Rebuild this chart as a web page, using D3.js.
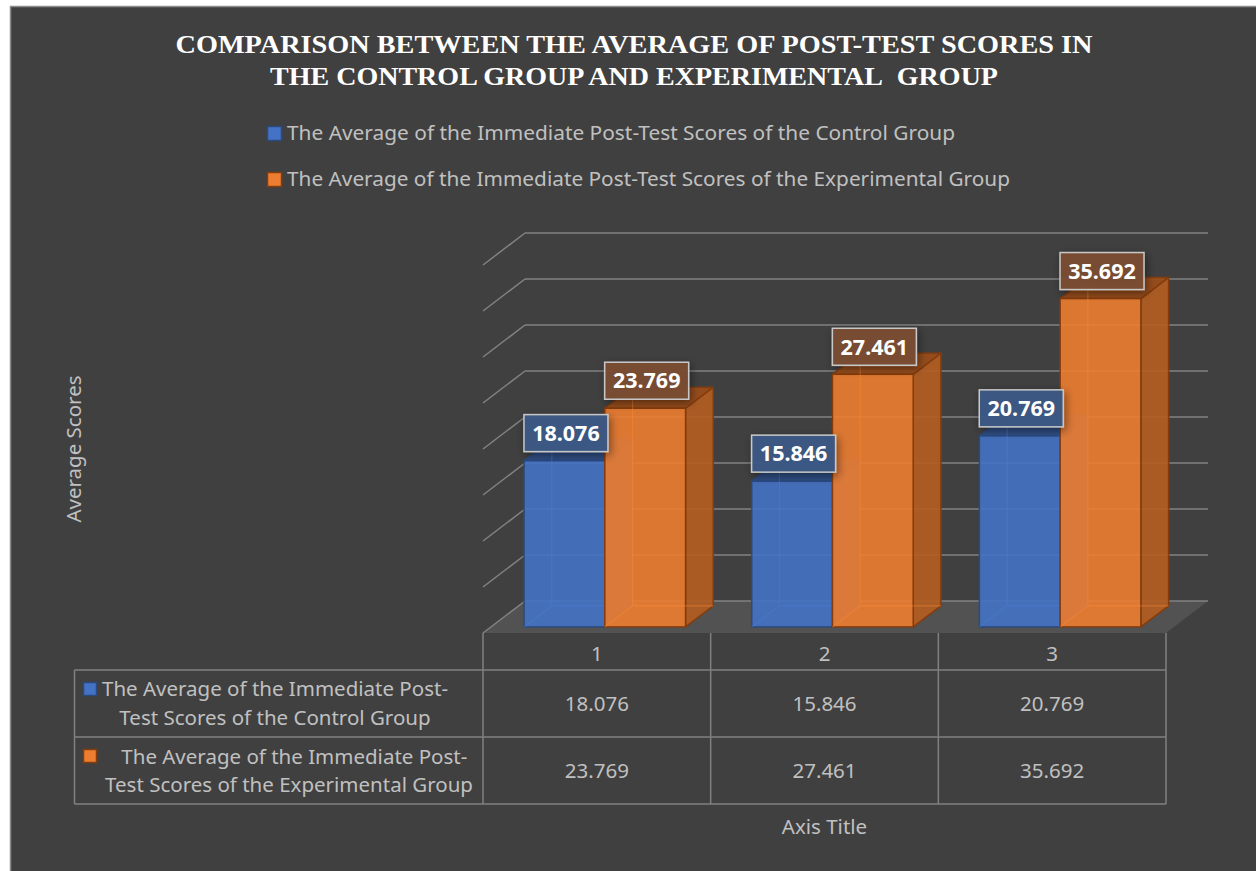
<!DOCTYPE html>
<html>
<head>
<meta charset="utf-8">
<script src="https://cdn.jsdelivr.net/npm/d3@7"></script>
<style>
  html, body { margin: 0; padding: 0; background: #ffffff; }
  svg { display: block; }
</style>
</head>
<body>
<div id="chart"></div>
<script>
// ############################################################################
// 3D clustered column chart with data table (Excel style)
// ############################################################################

// ----------------------------------------------------------------------------
// Data
// ----------------------------------------------------------------------------

const categories = ['1', '2', '3']
const seriesNames = [
  'The Average of the Immediate Post-Test Scores of the Control Group',
  'The Average of the Immediate Post-Test Scores of the Experimental Group'
]
const controlValues      = [18.076, 15.846, 20.769]
const experimentalValues = [23.769, 27.461, 35.692]
const valueTicks = [0, 5, 10, 15, 20, 25, 30, 35, 40]

const titleLines = [
  'COMPARISON BETWEEN THE AVERAGE OF POST-TEST SCORES IN',
  'THE CONTROL GROUP AND EXPERIMENTAL\u00a0 GROUP'
]
const tableRowLines = [
  ['The Average of the Immediate Post-', 'Test Scores of the Control Group'],
  ['\u00a0 The Average of the Immediate Post-', 'Test Scores of the Experimental Group']
]

// ----------------------------------------------------------------------------
// Layout / style
// ----------------------------------------------------------------------------

const W = 1256, H = 871
const bg = '#404040'
const grey = '#c0c0c0'
const gridColor = '#828282'
const font = '"Noto Sans", "Open Sans", sans-serif'

const colors = [
  { front: '#4472c4', side: '#2f5597', top: '#2f4f87', edge: '#2a4a80', label: '#3b5984' },
  { front: '#ed7d31', side: '#b35d22', top: '#9a4d1a', edge: '#843c0c', label: '#7a4e33' }
]

// floor front edge, depth vector
const floor = { left: 483, right: 1166, y: 633, dx: 42, dy: -32 }
const barDepth = [0.19, 0.85]

const svg = d3.select('#chart').append('svg')
  .attr('width', W)
  .attr('height', H)
  .style('font-family', font)

// chart area
svg.append('rect')
  .attr('x', 10.5).attr('y', 6.5)
  .attr('width', W).attr('height', H)
  .attr('fill', bg)
  .attr('stroke', '#8c8c8c')
  .attr('stroke-width', 1.5)

const defs = svg.append('defs')
const shadow = defs.append('filter').attr('id', 'shadow')
  .attr('x', '-30%').attr('y', '-30%').attr('width', '160%').attr('height', '160%')
shadow.append('feDropShadow')
  .attr('dx', 2).attr('dy', 3).attr('stdDeviation', 4)
  .attr('flood-color', '#000').attr('flood-opacity', 0.45)

// ----------------------------------------------------------------------------
// Scales
// ----------------------------------------------------------------------------

const x0 = d3.scaleBand()
  .domain(categories)
  .range([floor.left, floor.right])
  .paddingInner(0).paddingOuter(0)

const x1 = d3.scaleBand()
  .domain(d3.range(seriesNames.length))
  .range([0, x0.bandwidth()])
  .paddingInner(0).paddingOuter(0.41)

const yH = d3.scaleLinear()
  .domain([0, 40])
  .range([0, 368])

const series = [controlValues, experimentalValues]

// ----------------------------------------------------------------------------
// Title + legend
// ----------------------------------------------------------------------------

const titleY = [53, 85]
titleLines.forEach((t, i) => {
  svg.append('text')
    .attr('x', 634)
    .attr('y', titleY[i])
    .attr('text-anchor', 'middle')
    .attr('fill', '#ffffff')
    .style('font-family', '"Liberation Serif", "Times New Roman", serif')
    .style('font-weight', 'bold')
    .style('font-size', '26px')
    .attr('textLength', i == 0 ? 917 : 728)
    .attr('lengthAdjust', 'spacingAndGlyphs')
    .text(t)
})

const legendY = [133, 179]
const legendLen = [668, 723]
seriesNames.forEach((name, i) => {
  svg.append('rect')
    .attr('x', 267.5).attr('y', legendY[i] - 6.5)
    .attr('width', 14).attr('height', 14)
    .attr('fill', colors[i].front)
    .attr('stroke', colors[i].edge)
    .attr('stroke-width', 1.5)
  svg.append('text')
    .attr('x', 287)
    .attr('y', legendY[i])
    .attr('dy', '0.35em')
    .attr('fill', grey)
    .style('font-size', '19px')
    .attr('textLength', legendLen[i])
    .attr('lengthAdjust', 'spacingAndGlyphs')
    .text(name)
})

// ----------------------------------------------------------------------------
// Floor and gridlines
// ----------------------------------------------------------------------------

svg.append('polygon')
  .attr('points', [
    [floor.left, floor.y],
    [floor.left + floor.dx, floor.y + floor.dy],
    [floor.right + floor.dx, floor.y + floor.dy],
    [floor.right, floor.y]
  ].map(p => p.join(',')).join(' '))
  .attr('fill', '#525252')

const grid = svg.append('g')
  .attr('stroke', gridColor)
  .attr('stroke-width', 1.5)
  .attr('fill', 'none')

valueTicks.forEach(v => {
  const yb = floor.y + floor.dy - yH(v)
  grid.append('line')
    .attr('x1', floor.left + floor.dx).attr('x2', floor.right + floor.dx)
    .attr('y1', yb).attr('y2', yb)
  grid.append('line')
    .attr('x1', floor.left).attr('y1', floor.y - yH(v))
    .attr('x2', floor.left + floor.dx).attr('y2', yb)
})

// ----------------------------------------------------------------------------
// Bars
// ----------------------------------------------------------------------------

const pts = arr => arr.map(p => p.join(',')).join(' ')
const bars = svg.append('g')
const labelData = []

categories.forEach((cat, ci) => {
  series.forEach((vals, si) => {
    const c = colors[si]
    const v = vals[ci]
    const bw = x1.bandwidth()
    const xf = x0(cat) + x1(si) + floor.dx * barDepth[0]
    const yb = floor.y + floor.dy * barDepth[0]
    const yt = yb - yH(v)
    const dx = floor.dx * (barDepth[1] - barDepth[0])
    const dy = floor.dy * (barDepth[1] - barDepth[0])
    const backEdges = `M${xf + dx},${yt + dy} V${yb + dy} H${xf + bw + dx} M${xf},${yb} L${xf + dx},${yb + dy}`

    const g = bars.append('g')

    // right face
    g.append('polygon')
      .attr('points', pts([[xf + bw, yt], [xf + bw + dx, yt + dy], [xf + bw + dx, yb + dy], [xf + bw, yb]]))
      .attr('fill', c.side).attr('fill-opacity', 0.92)
      .attr('stroke', c.edge).attr('stroke-width', 1.5).attr('stroke-linejoin', 'round')

    // top face
    g.append('polygon')
      .attr('points', pts([[xf, yt], [xf + bw, yt], [xf + bw + dx, yt + dy], [xf + dx, yt + dy]]))
      .attr('fill', c.top).attr('fill-opacity', 0.95)
      .attr('stroke', c.edge).attr('stroke-width', 1.5).attr('stroke-linejoin', 'round')

    // front face
    g.append('rect')
      .attr('x', xf).attr('y', yt)
      .attr('width', bw).attr('height', yb - yt)
      .attr('fill', c.front).attr('fill-opacity', 0.9)
      .attr('stroke', c.edge).attr('stroke-width', 1.5)

    // back edges seen through the translucent front
    g.append('path')
      .attr('d', backEdges)
      .attr('fill', 'none')
      .attr('stroke', d3.color(c.front).brighter(0.3))
      .attr('stroke-opacity', 0.4)
      .attr('stroke-width', 1.2)

    labelData.push({ x: xf + bw / 2 + 1.5, y: yt - 9, v: v, c: c })
  })
})

// ----------------------------------------------------------------------------
// Data labels
// ----------------------------------------------------------------------------

const fmt = d3.format('.3f')
const labels = svg.append('g')
labelData.forEach(d => {
  labels.append('rect')
    .attr('x', d.x - 42).attr('y', d.y - 37)
    .attr('width', 84).attr('height', 37)
    .attr('fill', d.c.label)
    .attr('fill-opacity', 0.95)
    .attr('stroke', '#c8c8c8')
    .attr('stroke-width', 1.5)
    .attr('filter', 'url(#shadow)')
  labels.append('text')
    .attr('x', d.x).attr('y', d.y - 18.5)
    .attr('dy', '0.36em')
    .attr('text-anchor', 'middle')
    .attr('fill', '#ffffff')
    .style('font-weight', 'bold')
    .style('font-size', '21.5px')
    .text(fmt(d.v))
})

// ----------------------------------------------------------------------------
// Data table
// ----------------------------------------------------------------------------

const table = svg.append('g')
  .attr('stroke', '#808080')
  .attr('stroke-width', 1.5)
const tableLeft = 74.5
const rowY = [670, 737, 804]

// horizontal rules
rowY.forEach(y => {
  table.append('line')
    .attr('x1', tableLeft).attr('x2', floor.right)
    .attr('y1', y).attr('y2', y)
})
// vertical rules
table.append('line')
  .attr('x1', tableLeft).attr('x2', tableLeft)
  .attr('y1', rowY[0]).attr('y2', rowY[2])
categories.concat(['end']).forEach((cat, i) => {
  const xx = i < categories.length ? x0(cat) : floor.right
  table.append('line')
    .attr('x1', xx).attr('x2', xx)
    .attr('y1', floor.y).attr('y2', rowY[2])
})

// header
categories.forEach(cat => {
  svg.append('text')
    .attr('x', x0(cat) + x0.bandwidth() / 2)
    .attr('y', (floor.y + rowY[0]) / 2 + 2)
    .attr('dy', '0.35em')
    .attr('text-anchor', 'middle')
    .attr('fill', grey)
    .style('font-size', '20.5px')
    .text(cat)
})

// values
series.forEach((vals, si) => {
  vals.forEach((v, ci) => {
    svg.append('text')
      .attr('x', x0(categories[ci]) + x0.bandwidth() / 2)
      .attr('y', (rowY[si] + rowY[si + 1]) / 2)
      .attr('dy', '0.35em')
      .attr('text-anchor', 'middle')
      .attr('fill', grey)
      .style('font-size', '20.5px')
      .text(fmt(v))
  })
})

// row headers with markers
const rowTextX = [275, 289]
const rowLineY = [[19, 48], [20, 48]]
tableRowLines.forEach((lines, si) => {
  const top = rowY[si]
  svg.append('rect')
    .attr('x', 83.5).attr('y', top + 12.5)
    .attr('width', 13).attr('height', 13)
    .attr('fill', colors[si].front)
    .attr('stroke', colors[si].edge)
    .attr('stroke-width', 1.5)
  lines.forEach((t, li) => {
    svg.append('text')
      .attr('x', rowTextX[si])
      .attr('y', top + rowLineY[si][li])
      .attr('dy', '0.35em')
      .attr('text-anchor', 'middle')
      .attr('fill', grey)
      .style('font-size', '20.5px')
      .text(t)
  })
})

// ----------------------------------------------------------------------------
// Axis titles
// ----------------------------------------------------------------------------

svg.append('text')
  .attr('transform', 'translate(74,449) rotate(-90)')
  .attr('text-anchor', 'middle')
  .attr('dy', '0.35em')
  .attr('fill', grey)
  .style('font-size', '20.5px')
  .text('Average Scores')

svg.append('text')
  .attr('x', x0('2') + x0.bandwidth() / 2)
  .attr('y', 827)
  .attr('dy', '0.35em')
  .attr('text-anchor', 'middle')
  .attr('fill', grey)
  .style('font-size', '20.5px')
  .text('Axis Title')
</script>
</body>
</html>
